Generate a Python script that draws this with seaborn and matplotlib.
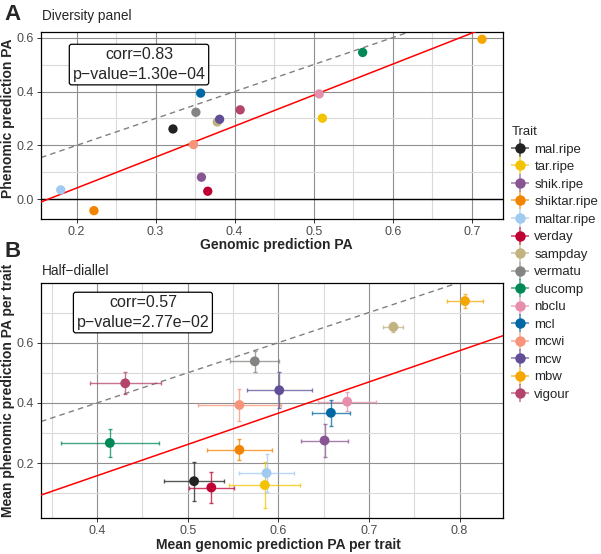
import matplotlib
matplotlib.use('Agg')
import matplotlib.pyplot as plt
from matplotlib.lines import Line2D
from matplotlib.ticker import MultipleLocator
import numpy as np
import pandas as pd
import seaborn as sns

# Rasgos y colores (paleta de Kelly)
traits = ['mal.ripe', 'tar.ripe', 'shik.ripe', 'shiktar.ripe', 'maltar.ripe',
          'verday', 'sampday', 'vermatu', 'clucomp', 'nbclu', 'mcl', 'mcwi',
          'mcw', 'mbw', 'vigour']
colores = ['#222222', '#F3C300', '#875692', '#F38400', '#A1CAF1',
           '#BE0032', '#C2B280', '#848482', '#008856', '#E68FAC',
           '#0067A5', '#F99379', '#604E97', '#F6A600', '#B3446C']

# Panel A: diversity panel
gen_pa = [0.322, 0.511, 0.358, 0.222, 0.180, 0.366, 0.378, 0.351,
          0.562, 0.507, 0.357, 0.348, 0.381, 0.713, 0.407]
phen_pa = [0.261, 0.301, 0.082, -0.042, 0.035, 0.030, 0.287, 0.323,
           0.545, 0.391, 0.394, 0.203, 0.297, 0.594, 0.332]

# Panel B: half-diallel (media +- error)
gen_mean = [0.507, 0.585, 0.651, 0.557, 0.587, 0.526, 0.727, 0.574,
            0.414, 0.676, 0.658, 0.557, 0.601, 0.806, 0.431]
gen_err = [0.033, 0.039, 0.026, 0.036, 0.030, 0.025, 0.011, 0.027,
           0.054, 0.032, 0.021, 0.046, 0.036, 0.020, 0.039]
phen_mean = [0.140, 0.127, 0.275, 0.244, 0.167, 0.119, 0.652, 0.538,
             0.267, 0.404, 0.367, 0.393, 0.442, 0.738, 0.465]
phen_err = [0.065, 0.077, 0.054, 0.035, 0.063, 0.050, 0.018, 0.034,
            0.047, 0.031, 0.044, 0.052, 0.060, 0.024, 0.037]

texto_a = 'corr=0.83\np\u2212value=1.30e\u221204'
texto_b = 'corr=0.57\np\u2212value=2.77e\u221202'

df_a = pd.DataFrame({'Trait': traits, 'gen': gen_pa, 'phen': phen_pa})
df_b = pd.DataFrame({'Trait': traits, 'gen': gen_mean, 'phen': phen_mean,
                     'gen_err': gen_err, 'phen_err': phen_err})
paleta = dict(zip(traits, colores))

sns.set_style('white')
plt.rcParams['font.family'] = ['Liberation Sans', 'DejaVu Sans']

fig = plt.figure(figsize=(6.01, 5.54), dpi=100)
axA = fig.add_axes([0.0682, 0.6047, 0.7688, 0.3381])
axB = fig.add_axes([0.0682, 0.0644, 0.7688, 0.4242])


def estilo(ax, xmaj, ymaj):
    ax.xaxis.set_major_locator(MultipleLocator(xmaj))
    ax.xaxis.set_minor_locator(MultipleLocator(xmaj / 2))
    ax.yaxis.set_major_locator(MultipleLocator(ymaj))
    ax.yaxis.set_minor_locator(MultipleLocator(ymaj / 2))
    ax.grid(which='major', color='#8f8f8f', lw=0.8)
    ax.grid(which='minor', color='#dadada', lw=0.8)
    ax.set_axisbelow(True)
    ax.tick_params(which='major', bottom=True, left=True, length=3, width=0.7,
                   color='#333333', labelcolor='#4D4D4D', labelsize=9, pad=2)
    ax.tick_params(which='minor', length=0)
    for s in ax.spines.values():
        s.set_color('black')
        s.set_linewidth(0.9)
    ax.set_xlabel('')
    ax.set_ylabel('')


caja = dict(boxstyle='round,pad=0.2,rounding_size=0.15', fc='white', ec='black', lw=0.9)

# Panel A
sns.scatterplot(data=df_a, x='gen', y='phen', hue='Trait', palette=paleta,
                s=45, edgecolor='none', legend=False, ax=axA, zorder=4)
axA.axhline(0, color='black', lw=1, zorder=2)
axA.axline((0, 0), (1, 1), color='#808080', ls=(0, (4, 3)), lw=1, zorder=2)
m, b = np.polyfit(gen_pa, phen_pa, 1)
axA.axline((0, b), slope=m, color='red', lw=1.1, zorder=3)
axA.set_xlim(0.155, 0.7396)
axA.set_ylim(-0.073, 0.622)
estilo(axA, 0.1, 0.2)
axA.text(0.279, 0.5, texto_a, ha='center', va='center', fontsize=11.5,
         linespacing=1.35, zorder=5, bbox=caja)

# Panel B
for i, t in enumerate(traits):
    axB.errorbar(gen_mean[i], phen_mean[i], xerr=gen_err[i], yerr=phen_err[i],
                 fmt='none', ecolor=colores[i], elinewidth=1, capsize=1.5,
                 capthick=1, alpha=0.75, zorder=3)
sns.scatterplot(data=df_b, x='gen', y='phen', hue='Trait', palette=paleta,
                s=50, edgecolor='none', legend=False, ax=axB, zorder=4)
axB.axline((0, 0), (1, 1), color='#808080', ls=(0, (4, 3)), lw=1, zorder=2)
m2, b2 = np.polyfit(gen_mean, phen_mean, 1)
axB.axline((0, b2), slope=m2, color='red', lw=1.1, zorder=3)
axB.set_xlim(0.338, 0.848)
axB.set_ylim(0.0167, 0.797)
estilo(axB, 0.1, 0.2)
axB.text(0.4505, 0.70, texto_b, ha='center', va='center', fontsize=11.5,
         linespacing=1.35, zorder=5, bbox=caja)

# Textos
fig.text(0.0216, 0.973, 'A', fontsize=16, fontweight='bold', ha='center', va='center')
fig.text(0.0208, 0.5457, 'B', fontsize=16, fontweight='bold', ha='center', va='center')
fig.text(0.0694, 0.971, 'Diversity panel', fontsize=9.8, ha='left', va='center')
fig.text(0.0694, 0.5114, 'Half\u2212diallel', fontsize=9.8, ha='left', va='center')
fig.text(0.459, 0.5578, 'Genomic prediction PA', fontsize=10, fontweight='bold',
         ha='center', va='center')
fig.text(0.4637, 0.0162, 'Mean genomic prediction PA per trait', fontsize=10,
         fontweight='bold', ha='center', va='center')
fig.text(0.0138, 0.786, 'Phenomic prediction PA', fontsize=10, fontweight='bold',
         ha='center', va='center', rotation=90)
fig.text(0.0138, 0.296, 'Mean phenomic prediction PA per trait', fontsize=10,
         fontweight='bold', ha='center', va='center', rotation=90)

# Leyenda: cruz (barras de error) + punto
handles = []
for c in colores:
    cruz = Line2D([], [], marker='+', ls='', color=c, markersize=13,
                  markeredgewidth=1.1, alpha=0.75)
    mk = Line2D([], [], marker='o', ls='', color=c, markersize=6.5)
    handles.append((cruz, mk))
leg = fig.legend(handles, traits, title='Trait', loc='upper left',
                 bbox_to_anchor=(0.843, 0.782), frameon=False, fontsize=9.5,
                 title_fontsize=9.5, handlelength=1.2, handletextpad=0.5,
                 labelspacing=0.4, borderaxespad=0)
leg._legend_box.align = 'left'

fig.savefig('out.png', dpi=100)
